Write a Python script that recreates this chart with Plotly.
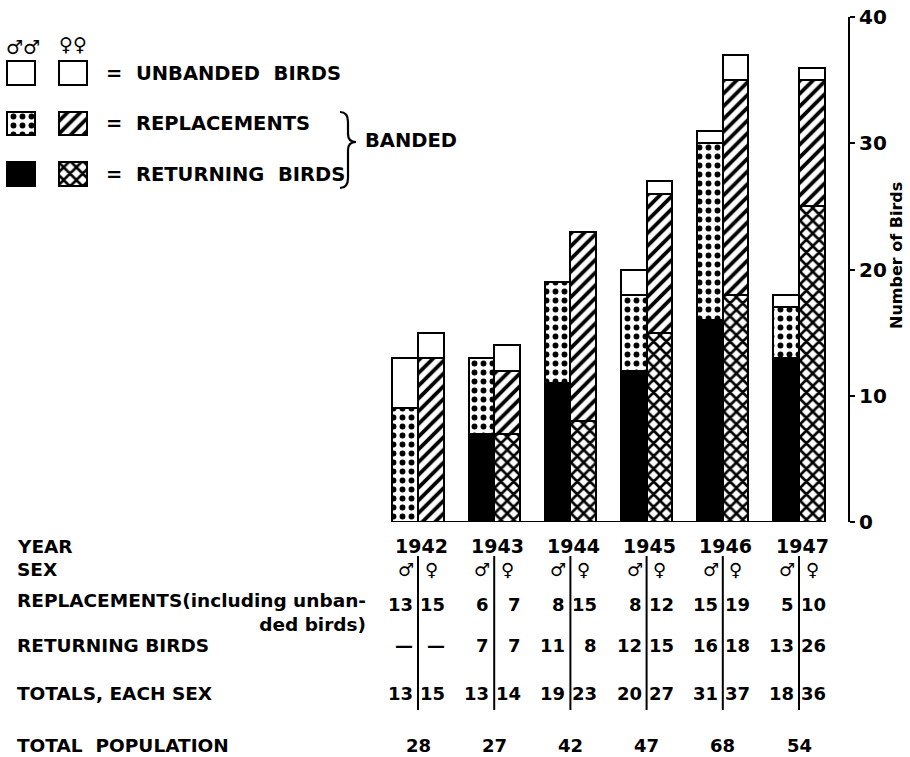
import numpy as np
import plotly.graph_objects as go

# ---------------- data ----------------
years = [1942, 1943, 1944, 1945, 1946, 1947]
male_returning = [0, 7, 11, 12, 16, 13]
male_repl_banded = [9, 6, 8, 6, 14, 4]
male_unbanded = [4, 0, 0, 2, 1, 1]
female_returning = [0, 7, 8, 15, 18, 25]
female_repl_banded = [13, 5, 15, 11, 17, 10]
female_unbanded = [2, 2, 0, 1, 2, 1]

tbl_male_repl = ["13", "6", "8", "8", "15", "5"]
tbl_female_repl = ["15", "7", "15", "12", "19", "10"]
tbl_male_ret = ["—", "7", "11", "12", "16", "13"]
tbl_female_ret = ["—", "7", "8", "15", "18", "26"]
tbl_male_tot = ["13", "13", "19", "20", "31", "18"]
tbl_female_tot = ["15", "14", "23", "27", "37", "36"]
total_population = ["28", "27", "42", "47", "68", "54"]

y_ticks = [0, 10, 20, 30, 40]
legend_rows = ["RETURNING BIRDS", "REPLACEMENTS", "UNBANDED BIRDS"]

# ---------------- helpers ----------------
W, H = 910, 757
def PX(px):
    return px / W
def PY(py):
    return 1 - py / H

FONT = "DejaVu Sans"
idx = np.arange(len(years))
bw = 0.335

fig = go.Figure()

def make_marker(st):
    marker = dict(color=st.get("color", "white"),
                  line=dict(color="black", width=2))
    if "shape" in st:
        marker["pattern"] = dict(shape=st["shape"], fgcolor="black",
                                 bgcolor="white", fgopacity=1,
                                 size=st["size"], solidity=st["solidity"])
    return marker

def stack(xpos, layers, styles):
    base = np.zeros(len(xpos))
    for vals, st in zip(layers, styles):
        vals = np.asarray(vals, dtype=float)
        fig.add_trace(go.Bar(x=xpos, y=vals, base=base.copy(), width=bw,
                             marker=make_marker(st),
                             showlegend=False, hoverinfo="skip"))
        base = base + vals

sty_male_ret = dict(color="black")
sty_male_rep = dict(shape=".", size=9, solidity=0.33)
sty_fem_rep = dict(shape="/", size=9, solidity=0.42)
sty_fem_ret = dict(shape="x", size=9, solidity=0.5)
sty_unb = dict(color="white")

stack(idx - bw / 2, [male_returning, male_repl_banded, male_unbanded],
      [sty_male_ret, sty_male_rep, sty_unb])
stack(idx + bw / 2, [female_returning, female_repl_banded, female_unbanded],
      [sty_fem_ret, sty_fem_rep, sty_unb])

# legend swatches on a small secondary axis
ly = np.arange(len(legend_rows))
sw_h = 0.47
def swatch(col, row, st):
    fig.add_trace(go.Bar(x=[col], y=[sw_h], base=[row - sw_h / 2], width=0.54,
                         marker=make_marker(st), xaxis="x2", yaxis="y2",
                         showlegend=False, hoverinfo="skip"))

swatch(0, ly[2], sty_unb)
swatch(1, ly[2], sty_unb)
swatch(0, ly[1], sty_male_rep)
swatch(1, ly[1], sty_fem_rep)
swatch(0, ly[0], sty_male_ret)
swatch(1, ly[0], sty_fem_ret)

x_lo = -(418 - 380) / 76.2
x_hi = len(years) - 1 + (848 - 799) / 76.2

fig.update_layout(
    width=W, height=H,
    margin=dict(l=0, r=0, t=0, b=0, autoexpand=False),
    paper_bgcolor="white", plot_bgcolor="white",
    barmode="overlay", bargap=0,
    showlegend=False,
    xaxis=dict(domain=[PX(380), PX(848)], range=[x_lo, x_hi], visible=False,
               fixedrange=True),
    yaxis=dict(domain=[PY(522), PY(17)], range=[0, 40], side="right",
               anchor="x", showline=True, linecolor="black", linewidth=2,
               ticks="outside", ticklen=5, tickwidth=2, tickcolor="black",
               tickvals=y_ticks, ticktext=[str(v) for v in y_ticks],
               tickfont=dict(family=FONT, size=20, color="black", weight="bold"),
               showgrid=False, zeroline=False, fixedrange=True),
    xaxis2=dict(domain=[PX(0), PX(104)], range=[-21 / 52, 1 + 31 / 52],
                visible=False, anchor="y2", fixedrange=True),
    yaxis2=dict(domain=[PY(200), PY(40)],
                range=[-26 / 50.5, 2 + 33 / 50.5],
                visible=False, anchor="x2", fixedrange=True),
)

# baseline
fig.add_shape(type="line", xref="x", yref="y",
              x0=idx[0] - bw, x1=idx[-1] + bw, y0=0, y1=0,
              line=dict(color="black", width=2))

def ann(text, x, y, size=18.5, xanchor="left", yanchor="middle", xref="paper",
        align="left", angle=0):
    fig.add_annotation(text=text, x=x, y=y, xref=xref, yref="paper",
                       xanchor=xanchor, yanchor=yanchor, showarrow=False,
                       align=align, textangle=angle,
                       font=dict(family=FONT, size=size, color="black",
                                 weight="bold"))

# axis title
ann("Number of Birds", PX(896), PY(256), size=16, xanchor="center", angle=-90)

# legend text
ann("♂♂", PX(23), PY(47), size=19, xanchor="center")
ann("♀♀", PX(73), PY(44), size=19, xanchor="center")
ann("=  UNBANDED  BIRDS", PX(104), PY(74), size=19.5)
ann("=  REPLACEMENTS", PX(104), PY(124), size=19.5)
ann("=  RETURNING  BIRDS", PX(104), PY(174), size=19.5)
ann("BANDED", PX(363), PY(141), size=19.5)

# brace
bx = [(340, 112), (348, 112), (348, 122), (348, 134), (348, 142), (356, 142),
      (348, 142), (348, 150), (348, 178), (348, 188), (340, 188)]
p = [f"{PX(a):.5f},{PY(b):.5f}" for a, b in bx]
brace = (f"M {p[0]} Q {p[1]} {p[2]} L {p[3]} Q {p[4]} {p[5]} "
         f"Q {p[6]} {p[7]} L {p[8]} Q {p[9]} {p[10]}")
fig.add_shape(type="path", xref="paper", yref="paper", path=brace,
              line=dict(color="black", width=2.2))

# table row labels
ann("YEAR", PX(15), PY(546))
ann("SEX", PX(15), PY(569))
ann("REPLACEMENTS(including unban-<br>ded birds)", PX(15), PY(612), align="right")
ann("RETURNING BIRDS", PX(15), PY(645))
ann("TOTALS, EACH SEX", PX(15), PY(693))
ann("TOTAL  POPULATION", PX(15), PY(745))

# table values per year (positioned on the bar axis)
def xa(text, x, py, xanchor, size=18, shift=0):
    fig.add_annotation(text=text, x=x, y=PY(py), xref="x", yref="paper",
                       xanchor=xanchor, yanchor="middle", xshift=shift,
                       showarrow=False,
                       font=dict(family=FONT, size=size, color="black",
                                 weight="bold"))

for i, yr in enumerate(years):
    xa(str(yr), idx[i], 546, "center", size=19, shift=3)
    xa("♂", idx[i], 569, "center", shift=-12)
    xa("♀", idx[i], 569, "center", shift=13)
    xa(tbl_male_repl[i], idx[i], 604, "right", shift=-3)
    xa(tbl_female_repl[i], idx[i], 604, "right", shift=29)
    xa(tbl_male_ret[i], idx[i], 645, "right", shift=-3)
    xa(tbl_female_ret[i], idx[i], 645, "right", shift=29)
    xa(tbl_male_tot[i], idx[i], 693, "right", shift=-3)
    xa(tbl_female_tot[i], idx[i], 693, "right", shift=29)
    xa(total_population[i], idx[i], 745, "center")
    fig.add_shape(type="line", xref="x", yref="paper", x0=idx[i], x1=idx[i],
                  y0=PY(710), y1=PY(556), line=dict(color="black", width=2))

fig.write_html("out.html", config={"displayModeBar": False},
               post_script="document.body.style.margin='0px';")
